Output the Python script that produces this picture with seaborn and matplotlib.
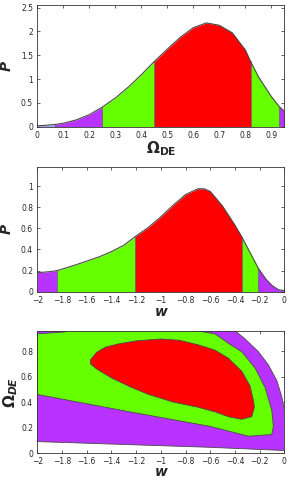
import numpy as np
import pandas as pd
import seaborn as sns
import matplotlib
matplotlib.use('Agg')
import matplotlib.pyplot as plt

# 1D marginal for Omega_DE (boundaries of the shaded bands are included as samples)
om = [0, 0.03, 0.07, 0.1, 0.15, 0.2, 0.25, 0.3, 0.35, 0.4, 0.45, 0.5, 0.55, 0.6,
      0.65, 0.7, 0.75, 0.8, 0.82, 0.85, 0.87, 0.9, 0.93, 0.95]
p_om = [0.015, 0.025, 0.045, 0.07, 0.14, 0.25, 0.41, 0.60, 0.83, 1.09, 1.37, 1.63, 1.88, 2.08,
        2.18, 2.13, 1.97, 1.61, 1.37, 1.05, 0.88, 0.63, 0.42, 0.32]
om_bands = [0, 0.07, 0.25, 0.45, 0.82, 0.93, 0.95]

# 1D marginal for w
w = [-2, -1.9, -1.84, -1.7, -1.6, -1.5, -1.4, -1.3, -1.21, -1.1, -1.0, -0.9, -0.8, -0.7,
     -0.65, -0.6, -0.5, -0.4, -0.345, -0.3, -0.21, -0.15, -0.1, -0.05, 0]
p_w = [0.18, 0.19, 0.20, 0.25, 0.29, 0.33, 0.38, 0.44, 0.52, 0.61, 0.71, 0.82, 0.92, 0.975,
       0.975, 0.95, 0.81, 0.63, 0.52, 0.42, 0.22, 0.12, 0.06, 0.02, 0.01]
w_bands = [-2, -1.84, -1.21, -0.345, -0.21, 0]

# 2D contours (w, Omega_DE)
c3_w = [-2, -2, -0.45, -0.32, -0.21, -0.13, -0.06, -0.02, 0, 0, -0.6, -2]
c3_om = [0.09, 1.0, 1.0, 0.897, 0.795, 0.693, 0.566, 0.438, 0.336, 0.02, 0.045, 0.09]
c2_w = [-2, -1.78, -1.7, -0.95, -0.56, -0.45, -0.345, -0.237, -0.156, -0.102, -0.089,
        -0.102, -0.29, -0.6, -1.25, -2]
c2_om = [0.935, 0.95, 1.0, 1.0, 0.935, 0.859, 0.795, 0.667, 0.515, 0.336, 0.209,
         0.145, 0.132, 0.209, 0.323, 0.46]
c1_w = [-1.57, -1.52, -1.45, -1.35, -1.2, -1.0, -0.85, -0.7, -0.561, -0.453, -0.345,
        -0.278, -0.251, -0.243, -0.264, -0.345, -0.453, -0.561, -0.7, -0.9, -1.1,
        -1.25, -1.4, -1.52, -1.57]
c1_om = [0.73, 0.79, 0.83, 0.855, 0.88, 0.895, 0.885, 0.85, 0.807, 0.744, 0.642,
         0.527, 0.413, 0.362, 0.285, 0.265, 0.285, 0.323, 0.36, 0.40, 0.46,
         0.52, 0.59, 0.66, 0.70]

band_cols = ['#a0a0ff', '#b833ff', '#66ff00', '#ff0000', '#66ff00', '#b833ff']
w_cols = ['#b833ff', '#66ff00', '#ff0000', '#66ff00', '#b833ff']
red, green, purple = '#ff0000', '#66ff00', '#b833ff'
edge = '#4a4a4a'

sns.set_style('ticks')
plt.rcParams['font.family'] = ['DejaVu Sans']
plt.rcParams['axes.linewidth'] = 0.6

fig = plt.figure(figsize=(2.89, 4.83), dpi=100)
ax1 = fig.add_axes([0.129, 0.738, 0.855, 0.252])
ax2 = fig.add_axes([0.129, 0.396, 0.855, 0.258])
ax3 = fig.add_axes([0.129, 0.062, 0.855, 0.252])


def bands(ax, x, y, edges, cols):
    x = np.array(x)
    y = np.array(y)
    for a, b, c in zip(edges[:-1], edges[1:], cols):
        m = (x >= a - 1e-9) & (x <= b + 1e-9)
        ax.fill_between(x[m], 0, y[m], color=c, lw=0)
    for e in edges[1:-1]:
        ax.plot([e, e], [0, np.interp(e, x, y)], color='#666666', lw=0.6)
    sns.lineplot(x=x, y=y, ax=ax, color=edge, lw=0.8, sort=False)


bands(ax1, om, p_om, om_bands, band_cols)
ax1.set_xlim(0, 0.95)
ax1.set_ylim(0, 2.56)
ax1.set_xticks(np.arange(0, 0.91, 0.1))
ax1.set_xticklabels(['0', '0.1', '0.2', '0.3', '0.4', '0.5', '0.6', '0.7', '0.8', '0.9'])
ax1.set_yticks([0, 0.5, 1, 1.5, 2, 2.5])
ax1.set_yticklabels(['0', '0.5', '1', '1.5', '2', '2.5'])
ax1.set_xlabel(r'$\mathbf{\Omega_{DE}}$', fontsize=11, labelpad=0)
ax1.set_ylabel('P', fontsize=10, fontweight='bold', fontstyle='italic', labelpad=5)

bands(ax2, w, p_w, w_bands, w_cols)
ax2.set_xlim(-2, 0)
ax2.set_ylim(0, 1.18)
ax2.set_yticks([0, 0.2, 0.4, 0.6, 0.8, 1])
ax2.set_yticklabels(['0', '0.2', '0.4', '0.6', '0.8', '1'])
ax2.set_xlabel('w', fontsize=10, fontweight='bold', fontstyle='italic', labelpad=0)
ax2.set_ylabel('P', fontsize=10, fontweight='bold', fontstyle='italic', labelpad=5)

ax3.fill(c3_w, c3_om, color=purple, ec=edge, lw=0.6)
ax3.fill(c2_w, c2_om, color=green, ec=edge, lw=0.6)
ax3.fill(c1_w, c1_om, color=red, ec=edge, lw=0.6)
ax3.set_xlim(-2, 0)
ax3.set_ylim(0, 0.955)
ax3.set_yticks([0, 0.2, 0.4, 0.6, 0.8])
ax3.set_yticklabels(['0', '0.2', '0.4', '0.6', '0.8'])
ax3.set_xlabel('w', fontsize=10, fontweight='bold', fontstyle='italic', labelpad=-1)
ax3.set_ylabel(r'$\mathbf{\Omega}_{\mathbfit{DE}}$', fontsize=11, labelpad=1)

wticks = [-2, -1.8, -1.6, -1.4, -1.2, -1, -0.8, -0.6, -0.4, -0.2, 0]
for ax in (ax2, ax3):
    ax.set_xticks(wticks)
    ax.set_xticklabels([('\u2212' + f'{abs(t):g}') if t < 0 else '0' for t in wticks])

for ax in (ax1, ax2, ax3):
    ax.tick_params(direction='in', top=True, right=True, length=2.5, width=0.5,
                   labelsize=5.5)
    ax.tick_params(axis='x', pad=3)
    ax.tick_params(axis='y', pad=3)
    for s in ax.spines.values():
        s.set_visible(True)
        s.set_color('#333333')

fig.savefig('out.png', dpi=100)
